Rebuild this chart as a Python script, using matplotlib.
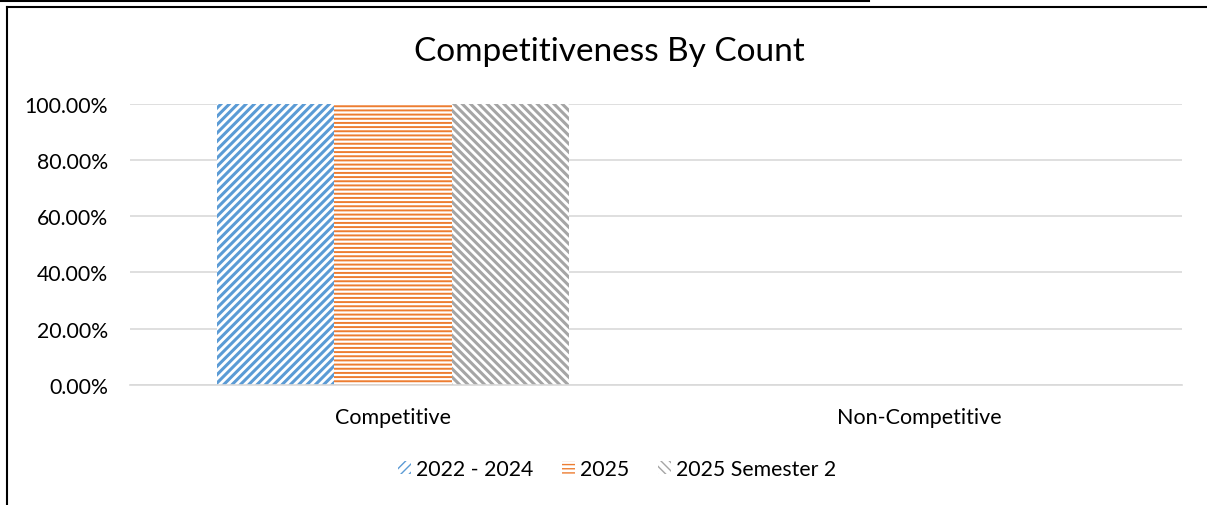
import matplotlib.pyplot as plt
import numpy as np
from matplotlib.lines import Line2D
from matplotlib.patches import Patch

plt.rcParams['font.family'] = ['Lato', 'DejaVu Sans']

categories = ['Competitive', 'Non-Competitive']
series = ['2022 - 2024', '2025', '2025 Semester 2']
values_2022_2024 = [1.0, 0.0]
values_2025 = [1.0, 0.0]
values_2025_sem2 = [1.0, 0.0]
yticks = [0, 0.2, 0.4, 0.6, 0.8, 1.0]

colors = ['#5B9BD5', '#ED7D31', '#A5A5A5']
hatches = ['////', '----', '\\\\\\\\']
hatch_lw = [2.2, 1.4, 2.2]

fig = plt.figure(figsize=(12.07, 5.06), dpi=100)
ax = fig.add_axes([130/1207, 1-385.7/506, 1052/1207, 280.7/506])

x = np.arange(len(categories))
w = 0.2225
all_vals = [values_2022_2024, values_2025, values_2025_sem2]
handles = []
for i, vals in enumerate(all_vals):
    with plt.rc_context({'hatch.linewidth': hatch_lw[i]}):
        ax.bar(x + (i-1)*w, vals, w, facecolor='white', edgecolor=colors[i],
               hatch=hatches[i], linewidth=0, zorder=3)
        handles.append(Patch(facecolor='white', edgecolor=colors[i],
                             hatch=hatches[i], linewidth=0))

ax.set_xlim(-0.5, 1.5)
ax.set_ylim(0, 1.0)
ax.set_yticks(yticks)
ax.set_yticklabels(['%.2f%%' % (v*100) for v in yticks], fontsize=15.3)
ax.set_xticks(x)
ax.set_xticklabels(categories, fontsize=15.5)
ax.tick_params(axis='y', length=0, pad=16)
ax.tick_params(axis='x', length=0, pad=16)
ax.grid(axis='y', color='#D9D9D9', lw=1.2, zorder=0)
for s in ax.spines.values():
    s.set_visible(False)
ax.axhline(0, color='#D9D9D9', lw=1.2, zorder=4, clip_on=False)

fig.text(609/1207, 1-52/506, 'Competitiveness By Count', ha='center', va='center',
         fontsize=24)

fig.legend(handles, series, loc='center', bbox_to_anchor=(617/1207, 1-470/506),
           ncol=3, frameon=False, fontsize=15.3, handlelength=0.6, handleheight=0.6,
           handletextpad=0.25, columnspacing=1.35)

# frame lines around the chart
fig.add_artist(Line2D([0, 869/1207], [1-1.5/506, 1-1.5/506], color='black', lw=1.5))
fig.add_artist(Line2D([6.5/1207, 1], [1-7.5/506, 1-7.5/506], color='black', lw=1.5))
fig.add_artist(Line2D([6.5/1207, 6.5/1207], [0, 1-7.5/506], color='black', lw=1.5))

fig.savefig('out.png', dpi=100)
